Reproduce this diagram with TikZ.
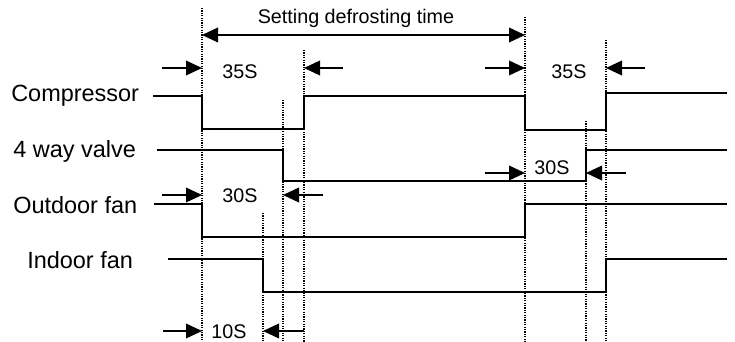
\documentclass[tikz,border=0pt]{standalone}
\usepackage{fontspec}
\setmainfont{Liberation Sans}
\usetikzlibrary{arrows.meta}
\begin{document}
\begin{tikzpicture}[x=0.75pt,y=-0.75pt,
  sig/.style={line width=1.8pt, line join=miter},
  guide/.style={line width=0.9pt, dash pattern=on 0.9pt off 0.9pt},
  dimarrow/.style={line width=1.2pt, -{Triangle[length=12pt,width=11pt]}},
  bothdim/.style={line width=1.2pt, {Triangle[length=12pt,width=11pt]}-{Triangle[length=12pt,width=11pt]}},
  lbl/.style={font=\fontsize{17.6}{20}\selectfont, anchor=base west, inner sep=0pt},
  val/.style={font=\fontsize{14.8}{17}\selectfont, anchor=base, inner sep=0pt}]
\useasboundingbox (0,0) rectangle (735,342);

% guide lines (dotted)
\coordinate (gA) at (202,8);   \coordinate (gAb) at (202,342);
\coordinate (gB) at (263,213); \coordinate (gBb) at (263,342);
\coordinate (gC) at (283,100); \coordinate (gCb) at (283,342);
\coordinate (gD) at (304,50);  \coordinate (gDb) at (304,342);
\coordinate (gE) at (525,17);  \coordinate (gEb) at (525,342);
\coordinate (gF) at (586,121); \coordinate (gFb) at (586,342);
\coordinate (gG) at (606,40);  \coordinate (gGb) at (606,342);
\foreach \a/\b in {gA/gAb,gB/gBb,gC/gCb,gD/gDb,gE/gEb,gF/gFb,gG/gGb}
  \draw[guide] (\a) -- (\b);

% signal labels
\node[lbl] (lcomp) at (11,102) {Compressor};
\node[lbl] (lvalve) at (13,157) {4 way valve};
\node[lbl] (lout) at (13,214) {Outdoor fan};
\node[lbl] (lin) at (27,268) {Indoor fan};

% signals
\draw[sig] (153,96) -- (202,96) -- (202,129) -- (304,129) -- (304,96) -- (525,96)
  -- (525,130) -- (606,130) -- (606,93) -- (727,93);
\draw[sig] (157,150) -- (283,150) -- (283,181) -- (586,181) -- (586,150) -- (727,150);
\draw[sig] (154,204) -- (202,204) -- (202,237) -- (525,237) -- (525,204) -- (727,204);
\draw[sig] (168,259) -- (263,259) -- (263,292) -- (606,292) -- (606,259) -- (727,259);

% setting defrosting time
\coordinate (sL) at (202,35); \coordinate (sR) at (525,35);
\draw[bothdim] (sL) -- (sR);
\node[val] (tset) at (356,24) {Setting defrosting time};

% 35S (first)
\coordinate (a1t) at (162,68); \coordinate (a1h) at (202,68);
\coordinate (a2t) at (343,68); \coordinate (a2h) at (304,68);
\draw[dimarrow] (a1t) -- (a1h);
\draw[dimarrow] (a2t) -- (a2h);
\node[val] (t35a) at (240,79) {35S};

% 35S (second)
\coordinate (b1t) at (485,68); \coordinate (b1h) at (525,68);
\coordinate (b2t) at (645,68); \coordinate (b2h) at (606,68);
\draw[dimarrow] (b1t) -- (b1h);
\draw[dimarrow] (b2t) -- (b2h);
\node[val] (t35b) at (569,79) {35S};

% 30S (4 way valve)
\coordinate (c1t) at (485,173); \coordinate (c1h) at (525,173);
\coordinate (c2t) at (626,173); \coordinate (c2h) at (586,173);
\draw[dimarrow] (c1t) -- (c1h);
\draw[dimarrow] (c2t) -- (c2h);
\node[val] (t30b) at (552,175) {30S};

% 30S (outdoor fan)
\coordinate (d1t) at (162,195); \coordinate (d1h) at (202,195);
\coordinate (d2t) at (323,195); \coordinate (d2h) at (283,195);
\draw[dimarrow] (d1t) -- (d1h);
\draw[dimarrow] (d2t) -- (d2h);
\node[val] (t30a) at (240,202) {30S};

% 10S
\coordinate (e1t) at (163,331); \coordinate (e1h) at (202,331);
\coordinate (e2t) at (304,331); \coordinate (e2h) at (263,331);
\draw[dimarrow] (e1t) -- (e1h);
\draw[dimarrow] (e2t) -- (e2h);
\node[val] (t10) at (229,338) {10S};
\end{tikzpicture}
\end{document}
